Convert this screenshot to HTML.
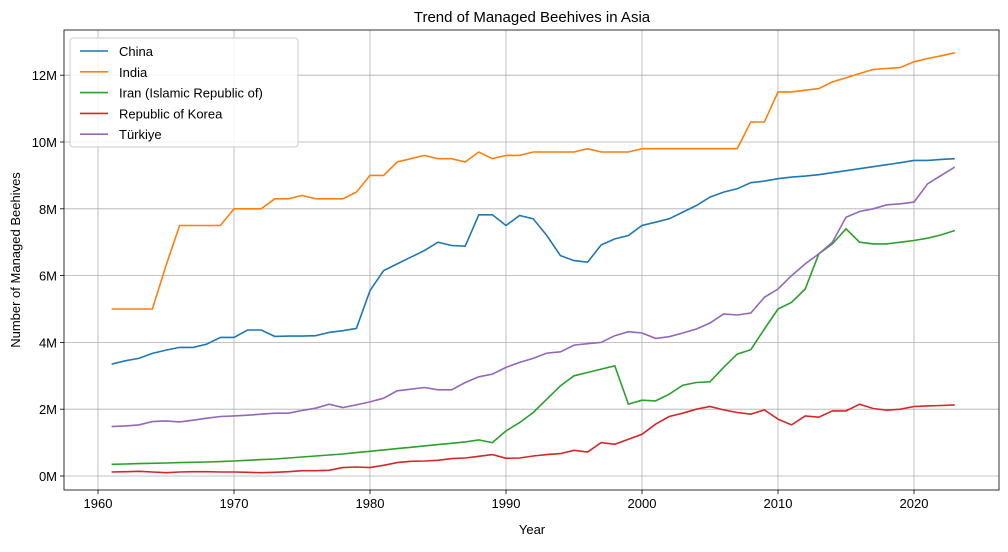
<!DOCTYPE html>
<html><head><meta charset="utf-8"><style>
body{margin:0;background:#fff;}
svg text{font-family:"Liberation Sans","DejaVu Sans",sans-serif;fill:#000;}
</style></head><body>
<svg id="s" width="1008" height="547" xmlns="http://www.w3.org/2000/svg"></svg>
<script>
const s=document.getElementById('s');
const L=64,R=999,T=30,B=490;
const X=y=>98+(y-1960)*13.6, Y=v=>476-v*33.4;
let h='';
// grid
for(let y=1960;y<=2020;y+=10){h+=`<line x1="${X(y)}" y1="${T}" x2="${X(y)}" y2="${B}" stroke="#b0b0b0" stroke-width="0.8"/>`;
h+=`<line x1="${X(y)}" y1="${B}" x2="${X(y)}" y2="${B+4}" stroke="#000" stroke-width="0.8"/><text x="${X(y)}" y="${B+18}" font-size="13" text-anchor="middle">${y}</text>`;}
for(let v=0;v<=12;v+=2){h+=`<line x1="${L}" y1="${Y(v)}" x2="${R}" y2="${Y(v)}" stroke="#b0b0b0" stroke-width="0.8"/>`;
h+=`<line x1="${L-4}" y1="${Y(v)}" x2="${L}" y2="${Y(v)}" stroke="#000" stroke-width="0.8"/><text x="${L-7}" y="${Y(v)+5}" font-size="13" text-anchor="end">${v}M</text>`;}
const D={
'#1f77b4':[3.35,3.45,3.52,3.67,3.77,3.85,3.85,3.95,4.15,4.15,4.37,4.37,4.18,4.19,4.19,4.2,4.3,4.35,4.42,5.55,6.15,6.35,6.55,6.75,7.0,6.9,6.88,7.82,7.82,7.5,7.8,7.7,7.2,6.6,6.45,6.4,6.92,7.1,7.2,7.5,7.6,7.7,7.9,8.1,8.35,8.5,8.6,8.78,8.83,8.9,8.95,8.98,9.02,9.08,9.14,9.2,9.26,9.32,9.38,9.45,9.45,9.48,9.5],
'#ff7f0e':[5,5,5,5,6.3,7.5,7.5,7.5,7.5,8,8,8,8.3,8.3,8.4,8.3,8.3,8.3,8.5,9,9,9.4,9.5,9.6,9.5,9.5,9.4,9.7,9.5,9.6,9.6,9.7,9.7,9.7,9.7,9.8,9.7,9.7,9.7,9.8,9.8,9.8,9.8,9.8,9.8,9.8,9.8,10.6,10.6,11.5,11.5,11.55,11.6,11.8,11.92,12.05,12.17,12.2,12.23,12.4,12.5,12.58,12.67],
'#2ca02c':[0.35,0.36,0.37,0.38,0.39,0.4,0.41,0.42,0.43,0.45,0.47,0.49,0.51,0.54,0.57,0.6,0.63,0.66,0.7,0.74,0.78,0.82,0.86,0.9,0.94,0.98,1.02,1.08,1.0,1.35,1.6,1.9,2.3,2.7,3.0,3.1,3.2,3.3,2.15,2.27,2.25,2.45,2.72,2.8,2.82,3.25,3.65,3.78,4.4,5.0,5.2,5.6,6.65,6.95,7.4,7.0,6.95,6.95,7.0,7.05,7.12,7.22,7.35],
'#d62728':[0.12,0.13,0.14,0.12,0.1,0.12,0.13,0.13,0.12,0.12,0.11,0.1,0.11,0.13,0.16,0.16,0.17,0.25,0.27,0.25,0.32,0.4,0.44,0.45,0.47,0.52,0.54,0.59,0.64,0.53,0.54,0.6,0.64,0.67,0.77,0.72,1.0,0.95,1.1,1.25,1.55,1.78,1.88,2.0,2.08,1.98,1.9,1.85,1.98,1.7,1.53,1.8,1.76,1.95,1.95,2.15,2.02,1.97,2.0,2.08,2.1,2.11,2.13],
'#9467bd':[1.48,1.5,1.53,1.63,1.65,1.62,1.67,1.73,1.78,1.8,1.82,1.85,1.88,1.88,1.96,2.03,2.15,2.05,2.13,2.22,2.33,2.55,2.6,2.65,2.58,2.58,2.8,2.97,3.05,3.25,3.4,3.52,3.68,3.72,3.92,3.96,4.0,4.2,4.32,4.28,4.12,4.17,4.28,4.4,4.58,4.85,4.82,4.88,5.35,5.6,6.0,6.35,6.65,7.0,7.75,7.92,8.0,8.12,8.15,8.2,8.75,9.0,9.25]};
for(const c in D){h+=`<polyline fill="none" stroke="${c}" stroke-width="1.6" points="${D[c].map((v,i)=>X(1961+i).toFixed(1)+','+Y(v).toFixed(1)).join(' ')}"/>`;}
h+=`<rect x="${L}" y="${T}" width="${R-L}" height="${B-T}" fill="none" stroke="#000" stroke-width="0.8"/>`;
// legend
h+=`<rect x="70" y="38" width="228" height="109" rx="3" fill="#fff" fill-opacity="0.85" stroke="#ccc"/>`;
const names=['China','India','Iran (Islamic Republic of)','Republic of Korea','Türkiye'];
Object.keys(D).forEach((c,i)=>{const y=51+i*20.8;h+=`<line x1="80" y1="${y}" x2="108" y2="${y}" stroke="${c}" stroke-width="1.6"/><text x="119" y="${y+5}" font-size="13">${names[i]}</text>`;});
h+=`<text x="532" y="22" font-size="15" text-anchor="middle">Trend of Managed Beehives in Asia</text>`;
h+=`<text x="532" y="534" font-size="13" text-anchor="middle">Year</text>`;
h+=`<text transform="translate(20,260) rotate(-90)" font-size="13" text-anchor="middle">Number of Managed Beehives</text>`;
s.innerHTML=h;
</script>
</body></html>
